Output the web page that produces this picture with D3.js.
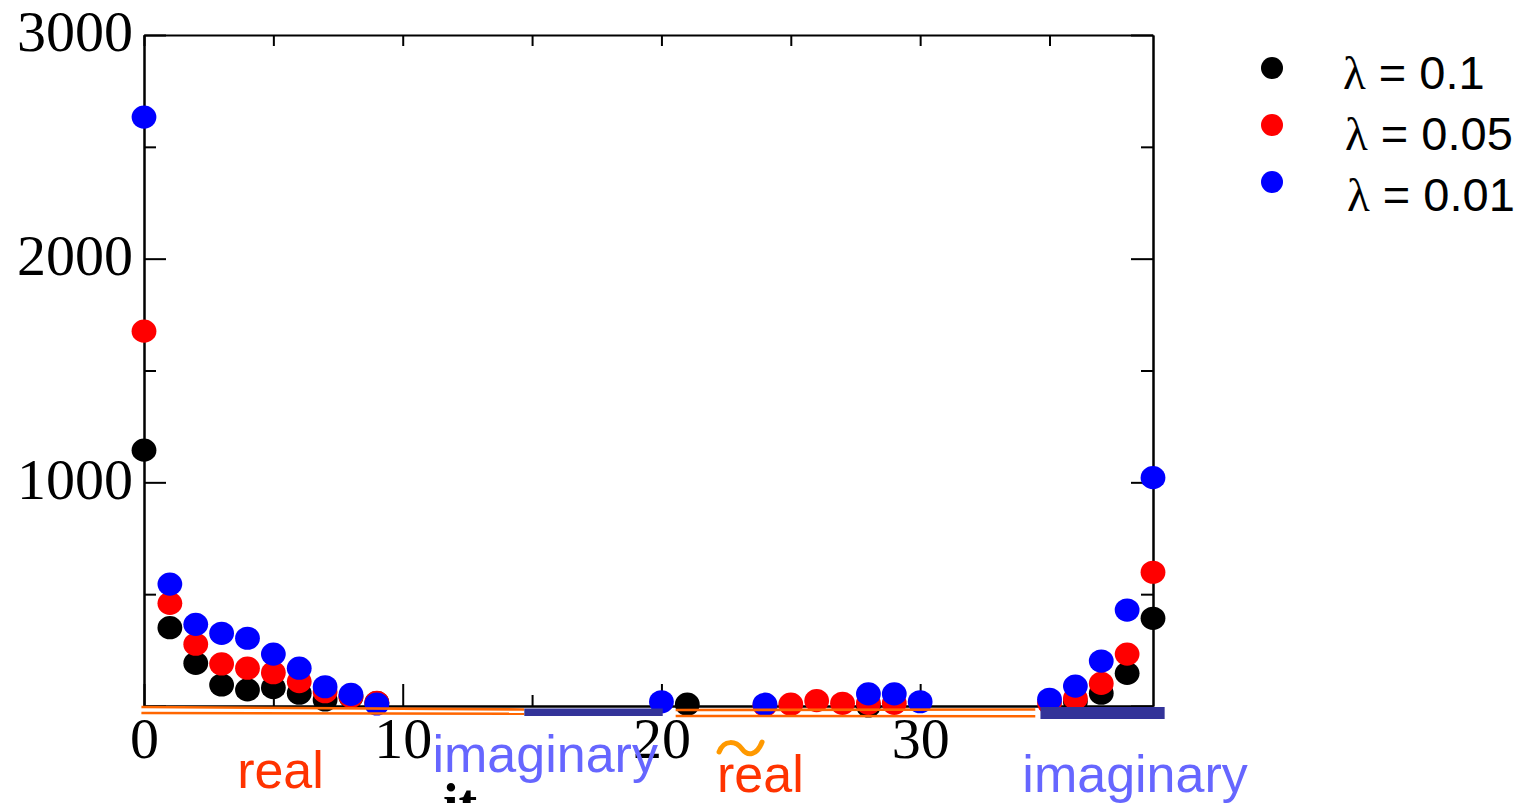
<!DOCTYPE html>
<html lang="en">
<head>
  <meta charset="utf-8">
  <title>lambda scatter</title>
  <script src="https://d3js.org/d3.v7.min.js"></script>
  <style>
    body { margin: 0; background: #fff; }
    .tick text { font-family: "Liberation Serif", "Times New Roman", serif; font-size: 58px; }
  </style>
</head>
<body>
  <script>
    // data
    const seriesNames = ["λ = 0.1", "λ = 0.05", "λ = 0.01"];
    const seriesColors = ["#000000", "#ff0000", "#0000ff"];
    const blackX = [0, 1, 2, 3, 4, 5, 6, 7, 8, 9, 21, 28, 36, 37, 38, 39];
    const blackY = [1144, 350, 191, 94, 72, 82, 57, 27, 40, 15, 8, 0, 19, 57, 146, 392];
    const redX = [0, 1, 2, 3, 4, 5, 6, 7, 8, 9, 24, 25, 26, 27, 28, 29, 35, 36, 37, 38, 39];
    const redY = [1676, 459, 276, 188, 169, 149, 109, 64, 42, 16, 3, 8, 24, 12, 12, 12, 13, 34, 101, 232, 598];
    const blueX = [0, 1, 2, 3, 4, 5, 6, 7, 8, 9, 20, 24, 28, 29, 30, 35, 36, 37, 38, 39];
    const blueY = [2633, 545, 365, 325, 303, 232, 169, 86, 52, 9, 19, 8, 54, 54, 19, 30, 89, 201, 429, 1021];
    const xMajor = [0, 10, 20, 30], xMinor = [5, 15, 25, 35];
    const yMajor = [0, 1000, 2000, 3000], yMinor = [500, 1500, 2500];
    // bands under the axis: real (orange double line) / imaginary (dark bar)
    const realBands = [[-0.1, 14.7], [20.55, 34.45]];
    const imagBands = [[14.7, 20.05], [34.65, 39.45]];
    const bandLabels = [
      { text: "real", x: 3.6, y: 788, color: "#ff3300" },
      { text: "imaginary", x: 11.15, y: 772, color: "#6666ff" },
      { text: "real", x: 22.15, y: 792, color: "#ff3300", tilde: true },
      { text: "imaginary", x: 33.95, y: 792, color: "#6666ff" }
    ];

    const width = 1524, height = 803;
    const margin = { top: 35, left: 144, right: 371, bottom: 97 };
    const innerW = width - margin.left - margin.right;
    const innerH = height - margin.top - margin.bottom;

    const svg = d3.select("body").append("svg")
      .attr("width", width).attr("height", height);
    const g = svg.append("g").attr("transform", `translate(${margin.left},${margin.top})`);

    const x = d3.scaleLinear().domain([0, 39]).range([0, innerW]);
    const y = d3.scaleLinear().domain([0, 3000]).range([innerH, 0]);

    // frame + ticks (all inward)
    function styleAxis(sel) {
      sel.select(".domain").attr("stroke", "#000").attr("stroke-width", 2);
      sel.selectAll(".tick line").attr("stroke", "#000").attr("stroke-width", 2);
    }
    g.append("g").attr("transform", `translate(0,${innerH})`)
      .call(d3.axisBottom(x).tickValues(xMajor).tickSize(-22).tickPadding(11).tickSizeOuter(0).tickFormat(d3.format("d")))
      .call(styleAxis);
    g.append("g").attr("transform", `translate(0,${innerH})`)
      .call(d3.axisBottom(x).tickValues(xMinor).tickSize(-11).tickSizeOuter(0).tickFormat(""))
      .call(styleAxis);
    g.append("g")
      .call(d3.axisTop(x).tickValues(xMajor.concat(xMinor)).tickSize(-11).tickSizeOuter(0).tickFormat(""))
      .call(styleAxis);
    g.append("g")
      .call(d3.axisLeft(y).tickValues(yMajor).tickSize(-22).tickPadding(11).tickSizeOuter(0).tickFormat(d => d === 0 ? "" : d))
      .call(styleAxis)
      .selectAll("text").attr("dy", "0.27em");
    g.append("g")
      .call(d3.axisLeft(y).tickValues(yMinor).tickSize(-12).tickSizeOuter(0).tickFormat(""))
      .call(styleAxis);
    g.append("g").attr("transform", `translate(${innerW},0)`)
      .call(d3.axisRight(y).tickValues(yMajor).tickSize(-22).tickSizeOuter(0).tickFormat(""))
      .call(styleAxis);
    g.append("g").attr("transform", `translate(${innerW},0)`)
      .call(d3.axisRight(y).tickValues(yMinor).tickSize(-12).tickSizeOuter(0).tickFormat(""))
      .call(styleAxis);
    g.selectAll(".tick text").attr("fill", "#000");

    // points
    const series = [
      { xs: blackX, ys: blackY, color: seriesColors[0] },
      { xs: redX, ys: redY, color: seriesColors[1] },
      { xs: blueX, ys: blueY, color: seriesColors[2] }
    ];
    series.forEach(s => {
      g.append("g").selectAll("ellipse")
        .data(s.xs.map((xv, i) => [xv, s.ys[i]]))
        .join("ellipse")
        .attr("cx", d => x(d[0])).attr("cy", d => y(d[1]))
        .attr("rx", 12.4).attr("ry", 11.6)
        .attr("fill", s.color);
    });

    // real / imaginary bands under the axis
    const bands = g.append("g");
    realBands.forEach((b, i) => {
      const slope = i === 0 ? 2.5 : 0;
      [[1, 1 + slope], [7, 7.8]].forEach(off => {
        bands.append("line")
          .attr("x1", x(b[0])).attr("x2", x(b[1]))
          .attr("y1", innerH + off[0] + (i === 0 ? 0 : 3)).attr("y2", innerH + off[1] + (i === 0 ? 0 : 2.5))
          .attr("stroke", "#ff6600").attr("stroke-width", 2.6);
      });
    });
    imagBands.forEach((b, i) => {
      bands.append("rect")
        .attr("x", x(b[0])).attr("width", x(b[1]) - x(b[0]))
        .attr("y", innerH + (i === 0 ? 2.5 : 1)).attr("height", i === 0 ? 7.5 : 12)
        .attr("fill", "#333399");
    });

    // band labels
    bandLabels.forEach(l => {
      svg.append("text")
        .attr("x", margin.left + x(l.x)).attr("y", l.y)
        .attr("fill", l.color)
        .style("font-family", "'Liberation Sans', Arial, sans-serif")
        .style("font-size", "52px")
        .text(l.text);
      if (l.tilde) {
        const tx = margin.left + x(l.x);
        svg.append("path")
          .attr("d", `M${tx + 2},752 C${tx + 7},739 ${tx + 19},741 ${tx + 25},749 S${tx + 40},755 ${tx + 45},742`)
          .attr("fill", "none").attr("stroke", "#ff9900")
          .attr("stroke-width", 5).attr("stroke-linecap", "round");
      }
    });

    // x axis title (cut off at the bottom edge)
    svg.append("text")
      .attr("x", 443).attr("y", 823)
      .style("font-family", "'Liberation Serif', 'Times New Roman', serif")
      .style("font-weight", "bold").style("font-size", "56px")
      .text("it");

    // legend
    const legend = svg.append("g").attr("transform", "translate(1272,68)");
    seriesNames.forEach((name, i) => {
      const row = legend.append("g").attr("transform", `translate(0,${i * 57})`);
      row.append("circle").attr("r", 11).attr("fill", seriesColors[i]);
      const t = row.append("text")
        .attr("x", 71 + i * 2).attr("y", 21 + i * 4)
        .style("font-family", "'Liberation Sans', Arial, sans-serif")
        .style("font-size", "47px");
      t.append("tspan").style("font-family", "'Liberation Serif', 'Times New Roman', serif").text(name.slice(0, 1));
      t.append("tspan").text(name.slice(1));
    });
  </script>
</body>
</html>
